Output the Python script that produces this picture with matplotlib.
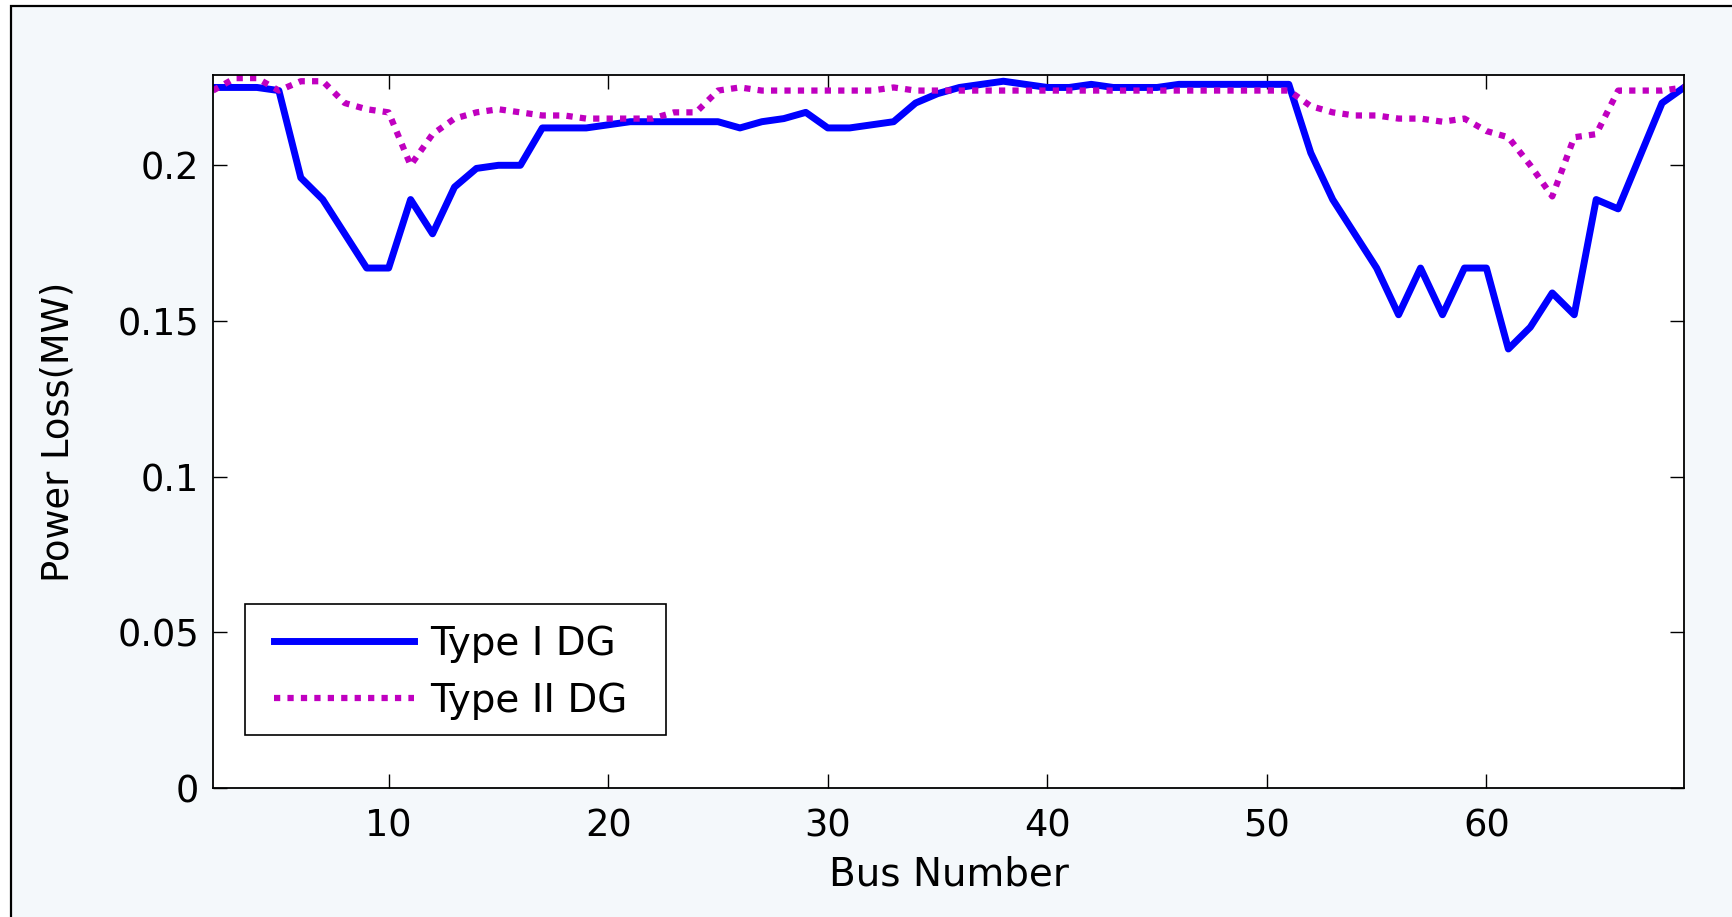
import matplotlib
matplotlib.use("Agg")
import matplotlib.pyplot as plt
from matplotlib.patches import Rectangle

bus = list(range(2, 70))
type1 = [0.225, 0.225, 0.225, 0.224, 0.196, 0.189, 0.178, 0.167, 0.167, 0.189,
         0.178, 0.193, 0.199, 0.200, 0.200, 0.212, 0.212, 0.212, 0.213, 0.214,
         0.214, 0.214, 0.214, 0.214, 0.212, 0.214, 0.215, 0.217, 0.212, 0.212,
         0.213, 0.214, 0.220, 0.223, 0.225, 0.226, 0.227, 0.226, 0.225, 0.225,
         0.226, 0.225, 0.225, 0.225, 0.226, 0.226, 0.226, 0.226, 0.226, 0.226,
         0.204, 0.189, 0.178, 0.167, 0.152, 0.167, 0.152, 0.167, 0.167, 0.141,
         0.148, 0.159, 0.152, 0.189, 0.186, 0.203, 0.220, 0.225]
type2 = [0.224, 0.228, 0.228, 0.224, 0.227, 0.227, 0.220, 0.218, 0.217, 0.200,
         0.210, 0.215, 0.217, 0.218, 0.217, 0.216, 0.216, 0.215, 0.215, 0.215,
         0.215, 0.217, 0.217, 0.224, 0.225, 0.224, 0.224, 0.224, 0.224, 0.224,
         0.224, 0.225, 0.224, 0.224, 0.224, 0.224, 0.224, 0.224, 0.224, 0.224,
         0.224, 0.224, 0.224, 0.224, 0.224, 0.224, 0.224, 0.224, 0.224, 0.224,
         0.219, 0.217, 0.216, 0.216, 0.215, 0.215, 0.214, 0.215, 0.211, 0.209,
         0.200, 0.190, 0.209, 0.210, 0.224, 0.224, 0.224, 0.225]
xticks = [10, 20, 30, 40, 50, 60]
yticks = [0, 0.05, 0.1, 0.15, 0.2]
ytick_labels = ["0", "0.05", "0.1", "0.15", "0.2"]

plt.rcParams['font.family'] = ['DejaVu Sans']

W, H = 1733, 917
fig = plt.figure(figsize=(W / 100, H / 100), dpi=100, facecolor='white')

def fx(px):
    return px / W

def fy(py):
    return (H - py) / H

# outer frame (cropped box)
bg = Rectangle((fx(11), -0.05), 1.1, fy(6) + 0.05, transform=fig.transFigure,
               facecolor='#F4F8FB', edgecolor='black', linewidth=1.6, zorder=-10)
fig.patches.append(bg)

ax = fig.add_axes([fx(213), fy(788), fx(1684) - fx(213), fy(75) - fy(788)])
ax.set_facecolor('white')

ax.plot(bus, type1, color='#0000FF', linewidth=5.0, label='Type I DG')
ax.plot(bus, type2, color='#C000C0', linewidth=4.5, linestyle=(0, (1.0, 1.15)),
        label='Type II DG')

ax.set_xlim(2, 69)
ax.set_ylim(0, 0.229)
ax.set_xticks(xticks)
ax.set_yticks(yticks)
ax.set_yticklabels(ytick_labels)
ax.tick_params(direction='in', length=10, width=1, top=True, right=True,
               labelsize=26.5, colors='black')
ax.tick_params(axis='x', pad=14)
ax.tick_params(axis='y', pad=10)
for s in ax.spines.values():
    s.set_linewidth(1.3)

ax.set_xlabel('Bus Number', fontsize=28, labelpad=8)
ax.set_ylabel('Power Loss(MW)', fontsize=26.5, labelpad=29)

# legend frame (drawn inside the axes, beneath the legend entries)
frame = Rectangle((fx(245), fy(735)), fx(666) - fx(245), fy(604) - fy(735),
                  transform=fig.transFigure, facecolor='white', edgecolor='black',
                  linewidth=1.2, zorder=4, clip_on=False)
ax.add_artist(frame)

leg = ax.legend(loc='upper left', bbox_to_anchor=(fx(274), fy(625)),
                bbox_transform=fig.transFigure,
                fontsize=28, frameon=False, handlelength=3.6,
                handletextpad=0.42, borderaxespad=0, borderpad=0, labelspacing=0.49)
leg.set_zorder(5)

fig.savefig('out.png', dpi=100, facecolor=fig.get_facecolor())
